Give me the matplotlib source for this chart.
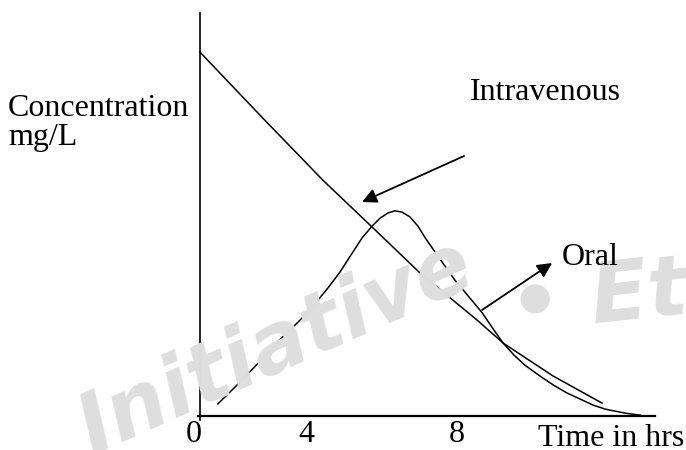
import numpy as np
import matplotlib.pyplot as plt
import matplotlib.transforms as mtransforms

# curves (time in hrs, concentration in arbitrary mg/L units)
iv_t = [0.0, 2.02, 3.83, 5.36, 6.85, 8.63, 9.44, 11.0, 12.52]
iv_c = [9.03, 7.34, 5.85, 4.69, 3.55, 2.38, 1.81, 0.99, 0.32]

oral_t = [0.56, 1.25, 1.87, 2.49, 3.12, 3.68, 3.99, 4.36, 4.74, 5.05, 5.36,
          5.61, 5.86, 6.07, 6.29, 6.54, 6.79, 7.04, 7.32, 7.63, 7.94, 8.35,
          8.79, 9.13, 9.44, 9.78, 10.12, 10.59, 11.0, 11.43, 11.84, 12.24,
          12.62, 13.24, 13.71]
oral_c = [0.30, 0.84, 1.36, 1.89, 2.38, 2.88, 3.18, 3.57, 4.04, 4.42, 4.71,
          4.91, 5.04, 5.09, 5.06, 4.94, 4.71, 4.39, 4.07, 3.72, 3.37, 2.98,
          2.56, 2.16, 1.81, 1.51, 1.26, 0.99, 0.77, 0.57, 0.42, 0.27,
          0.17, 0.07, 0.02]

tick_pos = [0, 3.3, 8]
tick_labels = ['0', '4', '8']

W, H = 686, 450
plt.rcParams['font.family'] = ['Liberation Serif', 'DejaVu Serif']
fig = plt.figure(figsize=(W / 100, H / 100), dpi=100)
ax = fig.add_axes([198 / W, 1 - 420 / H, 457 / W, 407 / H])

def fx(px):
    return px / W

def fy(py):
    return 1 - py / H

# watermark
fig.text(fx(92), fy(455), 'Initiative', family='DejaVu Sans', weight='bold',
         style='italic', fontsize=60, color='#dedede', rotation=24,
         rotation_mode='anchor', ha='left', va='baseline', zorder=0)
fig.text(fx(512), fy(332), '\u2022 Eth', family='DejaVu Sans', weight='bold',
         style='italic', fontsize=60, color='#dedede', rotation=6,
         rotation_mode='anchor', ha='left', va='baseline', zorder=0)
ax.set_facecolor('none')

ax.plot(iv_t, iv_c, color='k', lw=1.1)
ax.plot(oral_t, oral_c, color='k', lw=1.1)

for s in ['top', 'right']:
    ax.spines[s].set_visible(False)
ax.spines['bottom'].set_position(('data', 0))
ax.spines['left'].set_position(('data', 0))
ax.spines['left'].set_linewidth(1.2)
ax.spines['bottom'].set_linewidth(1.6)
ax.set_yticks([])
ax.set_xticks(tick_pos, tick_labels)
ax.tick_params(axis='x', length=0, pad=3, labelsize=23)
ax.set_xlim(-0.06, 14.17)
ax.set_ylim(-0.1, 10)
ax.spines['bottom'].set_bounds(-0.06, 14.17)

# nudge the "0" a little to the left, as in the sketch
lbl0 = ax.get_xticklabels()[0]
lbl0.set_transform(lbl0.get_transform() +
                   mtransforms.ScaledTranslation(-6 / 100, 0, fig.dpi_scale_trans))

# arrows
ax.annotate('', xy=((362 - 200) / 32.1, (416 - 202) / 40.3),
            xytext=((464 - 200) / 32.1, (416 - 156) / 40.3),
            arrowprops=dict(arrowstyle='-|>', color='k', lw=1.3,
                            mutation_scale=22, shrinkA=0, shrinkB=0))
ax.annotate('', xy=((552 - 200) / 32.1, (416 - 263) / 40.3),
            xytext=((482 - 200) / 32.1, (416 - 310) / 40.3),
            arrowprops=dict(arrowstyle='-|>', color='k', lw=1.3,
                            mutation_scale=22, shrinkA=0, shrinkB=0))

fs = 23
fig.text(fx(8), fy(116), 'Concentration', fontsize=fs, va='baseline')
fig.text(fx(8), fy(145), 'mg/L', fontsize=fs, va='baseline')
fig.text(fx(470), fy(100), 'Intravenous', fontsize=fs, va='baseline')
fig.text(fx(562), fy(265), 'Oral', fontsize=fs, va='baseline')
fig.text(fx(538), fy(446), 'Time in hrs', fontsize=fs, va='baseline')

fig.savefig('out.png', dpi=100)
